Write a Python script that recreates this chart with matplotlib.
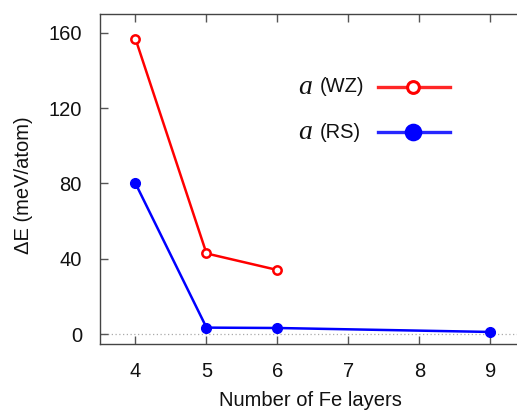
import matplotlib
matplotlib.use("Agg")
import matplotlib.pyplot as plt
from matplotlib.lines import Line2D

plt.rcParams['font.family'] = ['Liberation Sans', 'DejaVu Sans']

# Energy difference vs. number of Fe layers
wz_layers = [4, 5, 6]
wz_energy = [156.8, 42.8, 34.0]
rs_layers = [4, 5, 6, 9]
rs_energy = [80.0, 3.4, 3.2, 1.1]

x_ticks = [4, 5, 6, 7, 8, 9]
y_ticks = [0, 40, 80, 120, 160]

RED = '#ff0000'
BLUE = '#0000ff'
FS = 14.5

fig = plt.figure(figsize=(5.17, 4.12), dpi=100)
ax = fig.add_axes([100 / 517, 68 / 412, 426 / 517, 330 / 412])

ax.axhline(0, color='#aaaaaa', lw=0.9, ls=(0, (1, 2)), zorder=1)

ax.plot(wz_layers, wz_energy, color=RED, lw=1.8, marker='o', ms=6,
        mfc='white', mec=RED, mew=1.8, zorder=3)
ax.plot(rs_layers, rs_energy, color=BLUE, lw=1.8, marker='o', ms=7,
        mfc=BLUE, mec=BLUE, zorder=3)

ax.set_xlim(3.5, 9.5)
ax.set_ylim(-5.3, 170)
ax.set_xticks(x_ticks)
ax.set_yticks(y_ticks)

for side in ('top', 'bottom', 'left'):
    ax.spines[side].set_color('#444444')
    ax.spines[side].set_linewidth(1.0)
ax.spines['right'].set_visible(False)

ax.tick_params(axis='both', direction='in', length=6, width=1.0,
               color='#555555', labelsize=FS, labelcolor='#111111')
ax.tick_params(axis='x', top=True, pad=13)
ax.tick_params(axis='y', pad=13)

ax.set_xlabel('Number of Fe layers', fontsize=FS, color='#111111', va='center')
ax.set_ylabel('ΔE (meV/atom)', fontsize=FS, color='#111111', va='center')
ax.xaxis.set_label_coords((310 - 100) / 426, -(401 - 344) / 330)
ax.yaxis.set_label_coords(-(100 - 23) / 426, (344 - 185) / 330)

# Legend entries drawn as text plus line samples
legend_rows = [('(WZ)', RED, 'white', 87), ('(RS)', BLUE, BLUE, 132)]
for label, color, face, ypix in legend_rows:
    yf = 1 - ypix / 412
    fig.text(298 / 517, yf, 'a', fontsize=20, style='italic',
             family='Liberation Serif', color='#111111', va='center', ha='left')
    fig.text(320 / 517, yf, label, fontsize=FS, color='#111111',
             va='center', ha='left')
    fig.add_artist(Line2D([378 / 517, 450 / 517], [yf, yf], color=color,
                          lw=2.4, alpha=0.85,
                          transform=fig.transFigure))
    fig.add_artist(Line2D([413 / 517], [yf], marker='o',
                          ms=8.5 if face == 'white' else 10.5, mfc=face,
                          mec=color, mew=2.2, ls='none',
                          transform=fig.transFigure))

fig.savefig('out.png', dpi=100)
